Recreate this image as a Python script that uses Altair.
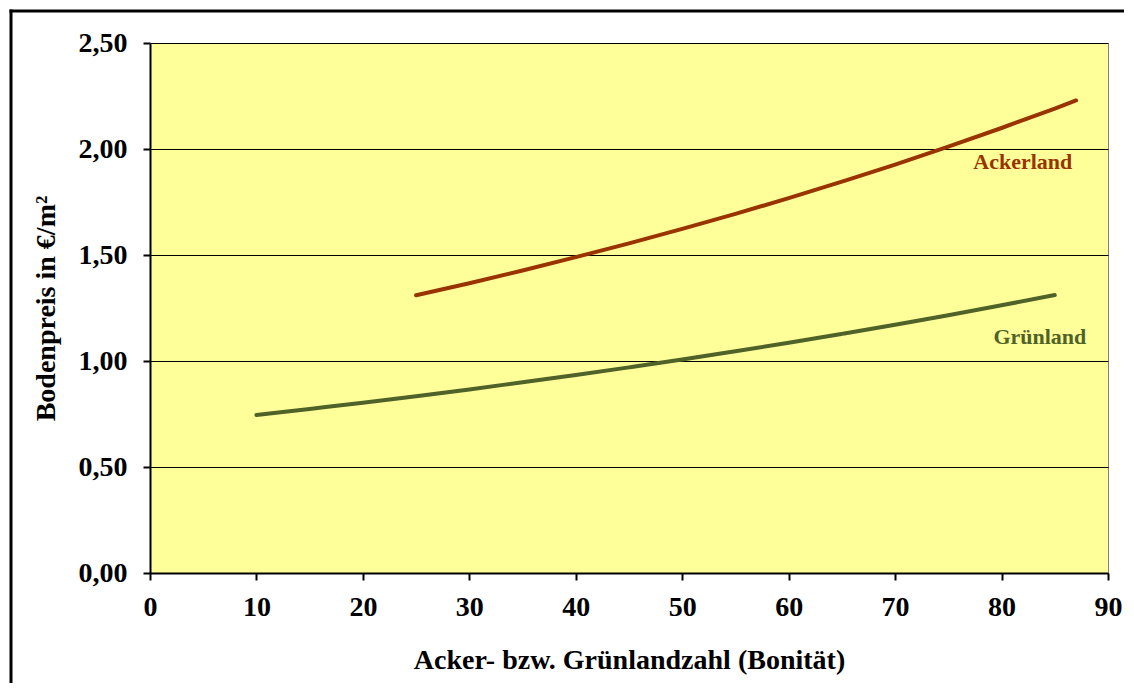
import altair as alt
import pandas as pd

acker_x = [25, 30, 35, 40, 45, 50, 55, 60, 65, 70, 75, 80, 85, 87]
acker_y = [1.310, 1.367, 1.427, 1.490, 1.555, 1.623, 1.694, 1.768, 1.846, 1.926, 2.011, 2.099, 2.191, 2.229]
gruen_x = [10, 15, 20, 25, 30, 35, 40, 45, 50, 55, 60, 65, 70, 75, 80, 85]
gruen_y = [0.745, 0.774, 0.803, 0.834, 0.866, 0.900, 0.934, 0.970, 1.007, 1.046, 1.086, 1.128, 1.171, 1.216, 1.263, 1.311]
label_names = ["Ackerland", "Grünland"]
label_x = [82.0, 83.6]
label_y = [1.94, 1.113]

ACK = "#993300"
GRU = "#4F6228"
FONT = "Liberation Serif"

df = pd.concat([
    pd.DataFrame({"x": acker_x, "y": acker_y, "s": "Ackerland"}),
    pd.DataFrame({"x": gruen_x, "y": gruen_y, "s": "Grünland"}),
])
lab = pd.DataFrame({"x": label_x, "y": label_y, "s": label_names})

xs = alt.Scale(domain=[0, 90], nice=False)
ys = alt.Scale(domain=[0, 2.5], nice=False)
color = alt.Scale(domain=["Ackerland", "Grünland"], range=[ACK, GRU])

lines = alt.Chart(df).mark_line(strokeWidth=4, strokeCap="round", strokeJoin="round", interpolate="monotone").encode(
    x=alt.X("x:Q", scale=xs, axis=alt.Axis(
        title="Acker- bzw. Grünlandzahl (Bonität)", values=list(range(0, 91, 10)),
        grid=False, domainColor="black", domainWidth=2, tickColor="black", tickWidth=2, tickSize=7,
        labelFlush=False, labelOverlap=False,
        labelFont=FONT, labelFontSize=28, labelFontWeight="bold", labelColor="black", labelPadding=13,
        titleFont=FONT, titleFontSize=28, titleFontWeight="bold", titleColor="black", titlePadding=25)),
    y=alt.Y("y:Q", scale=ys, axis=alt.Axis(
        title="Bodenpreis in €/m²", values=[0, 0.5, 1.0, 1.5, 2.0, 2.5],
        labelExpr="replace(format(datum.value, '.2f'), '.', ',')",
        labelFlush=False, labelOverlap=False,
        grid=True, gridColor="black", gridWidth=1, gridOpacity=1,
        domainColor="black", domainWidth=2, tickColor="black", tickWidth=2, tickSize=7,
        labelFont=FONT, labelFontSize=28, labelFontWeight="bold", labelColor="black", labelPadding=16,
        titleFont=FONT, titleFontSize=28, titleFontWeight="bold", titleColor="black", titlePadding=18)),
    color=alt.Color("s:N", scale=color, legend=None),
    detail="s:N",
)

texts = alt.Chart(lab).mark_text(font=FONT, fontSize=22, fontWeight="bold").encode(
    x=alt.X("x:Q", scale=xs),
    y=alt.Y("y:Q", scale=ys),
    text="s:N",
    color=alt.Color("s:N", scale=color, legend=None),
)

frame_base = alt.Chart(pd.DataFrame({"a": [0]}))
frame_left = frame_base.mark_rule(color="black", strokeWidth=3, clip=False).encode(
    x=alt.value(-139), y=alt.value(-33.5), y2=alt.value(640)
)
frame_top = frame_base.mark_rule(color="black", strokeWidth=3, clip=False).encode(
    y=alt.value(-32), x=alt.value(-140.5), x2=alt.value(974)
)

chart = alt.layer(frame_left, frame_top, lines, texts).properties(
    width=958, height=530,
    autosize=alt.AutoSizeParams(type="none"),
    padding={"left": 142, "top": 35, "right": 16, "bottom": 110},
).configure_view(
    fill="#FFFF99", stroke="#808080", strokeWidth=1
)

chart.save("out.html", embed_options={"renderer": "svg", "actions": False})
